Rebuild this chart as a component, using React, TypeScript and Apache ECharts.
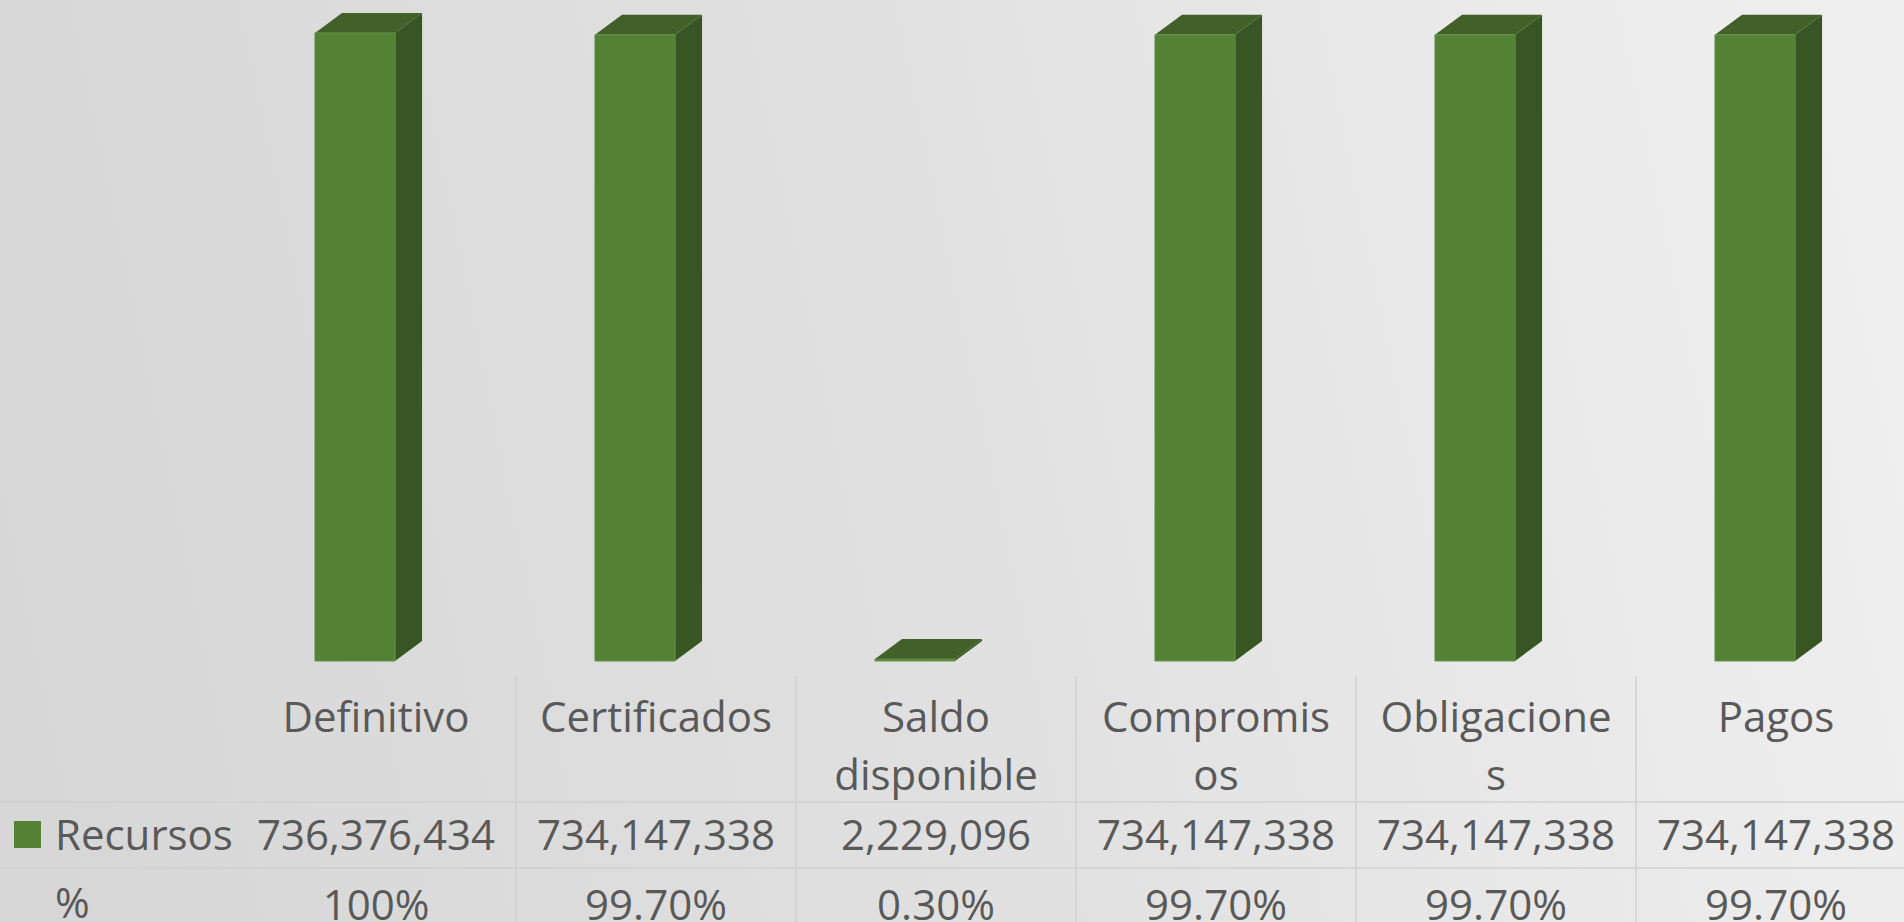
import React, { useEffect, useRef } from 'react';
import * as echarts from 'echarts';

// ---- data ----
const categories = ['Definitivo', 'Certificados', 'Saldo disponible', 'Compromisos', 'Obligaciones', 'Pagos'];
const headerLabels = ['Definitivo', 'Certificados', 'Saldo\ndisponible', 'Compromis\nos', 'Obligacione\ns', 'Pagos'];
const recursos = [736376434, 734147338, 2229096, 734147338, 734147338, 734147338];
const percentLabels = ['100%', '99.70%', '0.30%', '99.70%', '99.70%', '99.70%'];
const seriesName = 'Recursos';
const percentRowName = '%';

const TEXT = '#595959';
const FONT = "'Open Sans', 'Noto Sans', sans-serif";
const LINE = '#d0d0d0';

export default function App() {
  const ref = useRef<HTMLDivElement>(null);

  useEffect(() => {
    document.body.style.margin = '0';
    const chart = echarts.init(ref.current!, undefined, { renderer: 'svg' });

    const labelBase = {
      interval: 0,
      color: TEXT,
      fontSize: 42,
      fontFamily: FONT,
      lineHeight: 58,
    };

    const option: any = {
      animation: false,
      backgroundColor: {
        type: 'linear', x: 0, y: 0.55, x2: 1, y2: 0.45,
        colorStops: [
          { offset: 0, color: '#d7d7d7' },
          { offset: 0.5, color: '#e1e1e1' },
          { offset: 1, color: '#efefef' },
        ],
      },
      grid: { left: 236, top: 0, width: 1680, height: 661, containLabel: false, outerBoundsMode: 'none' },
      yAxis: { type: 'value', min: 0, max: 775000000, show: false },
      xAxis: [
        {
          type: 'category', data: headerLabels, position: 'bottom',
          axisLine: { show: false }, axisTick: { show: false }, splitLine: { show: false },
          axisLabel: { ...labelBase, margin: 25 },
        },
        {
          type: 'category', data: recursos.map((v) => v.toLocaleString('en-US')), position: 'bottom', offset: 143,
          axisLine: { show: false }, axisTick: { show: false },
          axisLabel: { ...labelBase, margin: 0 },
        },
        {
          type: 'category', data: percentLabels, position: 'bottom', offset: 213,
          axisLine: { show: false }, axisTick: { show: false },
          axisLabel: { ...labelBase, margin: 0 },
        },
        {
          type: 'category', data: categories, position: 'bottom', offset: 15,
          axisLine: { show: false },
          axisLabel: { show: false },
          axisTick: {
            show: true, length: 260,
            interval: (index: number) => index !== 0,
            lineStyle: { color: LINE, width: 1.5 },
          },
        },
      ],
      series: [
        {
          name: seriesName,
          type: 'custom',
          xAxisIndex: 0,
          data: recursos.map((v, i) => [i, v]),
          encode: { x: 0, y: 1 },
          renderItem: (params: any, api: any) => {
            const idx = api.value(0);
            const top = api.coord([idx, api.value(1)]);
            const base = api.coord([idx, 0]);
            const band = api.size([1, 0])[0];
            const fl = top[0] - band * 0.218;
            const fr = top[0] + band * 0.068;
            const dx = band * 0.0965;
            const dy = -20;
            const ty = top[1];
            const by = base[1];
            return {
              type: 'group',
              children: [
                {
                  type: 'polygon',
                  shape: { points: [[fr, ty], [fr + dx, ty + dy], [fr + dx, by + dy], [fr, by]] },
                  style: { fill: '#375623' },
                },
                {
                  type: 'polygon',
                  shape: { points: [[fl, ty], [fl + dx, ty + dy], [fr + dx, ty + dy], [fr, ty]] },
                  style: { fill: '#416128' },
                },
                {
                  type: 'rect',
                  shape: { x: fl, y: ty, width: fr - fl, height: Math.max(by - ty, 0.5) },
                  style: { fill: '#548235', stroke: '#64924a', lineWidth: 1 },
                },
              ],
            };
          },
        },
      ],
      graphic: [
        { type: 'line', shape: { x1: 0, y1: 802, x2: 1904, y2: 802 }, style: { stroke: LINE, lineWidth: 1.5 } },
        { type: 'line', shape: { x1: 0, y1: 868, x2: 1904, y2: 868 }, style: { stroke: LINE, lineWidth: 1.5 } },
        { type: 'rect', shape: { x: 14, y: 821, width: 27, height: 27 }, style: { fill: '#548235' } },
        {
          type: 'text', x: 55, y: 833,
          style: { text: seriesName, fill: TEXT, fontSize: 42, fontFamily: FONT, verticalAlign: 'middle', align: 'left' },
        },
        {
          type: 'text', x: 55, y: 901,
          style: { text: percentRowName, fill: TEXT, fontSize: 42, fontFamily: FONT, verticalAlign: 'middle', align: 'left' },
        },
      ],
    };

    chart.setOption(option);
    return () => chart.dispose();
  }, []);

  return <div ref={ref} style={{ position: 'fixed', left: 0, top: 0, width: 1904, height: 922 }} />;
}
